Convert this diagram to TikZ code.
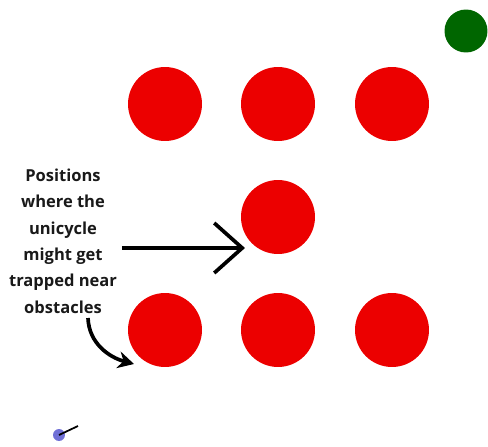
\documentclass[tikz,border=0pt]{standalone}
\usepackage{fontspec}
\setmainfont{Open Sans}
\usetikzlibrary{arrows.meta, positioning}
\definecolor{ObstacleRed}{RGB}{236, 0, 0}
\definecolor{GoalGreen}{RGB}{0, 102, 0}
\definecolor{RobotBlue}{RGB}{112, 112, 214}

\begin{document}
\begin{tikzpicture}[x=0.02cm, y=-0.02cm,
            obstacle/.style={circle, fill=ObstacleRed, minimum size=1.48cm, inner sep=0pt},
            goal/.style={circle, fill=GoalGreen, minimum size=0.86cm, inner sep=0pt},
            robot/.style={circle, fill=RobotBlue, minimum size=0.24cm, inner sep=0pt},
            note/.style={align=center, text=black!90, font=\bfseries\fontsize{9.4}{15}\selectfont},
            pointer/.style={line width=2.1pt, black}
        ]
        \useasboundingbox (0,0) rectangle (488,447);

        % The obstacles
        \node[obstacle] (o1) at (165,104) {};
        \node[obstacle] (o2) at (278,104) {};
        \node[obstacle] (o3) at (392,104) {};
        \node[obstacle] (mid) at (278,217) {};
        \node[obstacle] (o4) at (165,330) {};
        \node[obstacle] (o5) at (278,330) {};
        \node[obstacle] (o6) at (392,330) {};

        % Goal and unicycle
        \node[goal] (goal) at (466,31) {};
        \node[robot] (uni) at (59,435) {};
        \coordinate (head) at (78,426);
        \draw[line width=1pt] (uni.center) -- (head);

        % Labels
        \node[note] (trap) at (63,241) {Positions\\where the\\unicycle\\might get\\trapped near\\obstacles};
        \coordinate (tip) at (245,248);
        \coordinate (bend) at (134,364);
        \draw[pointer, -{Straight Barb[length=0.56cm, width=1.0cm]}] (122,248) -- (tip);
        \draw[pointer, -{Stealth[length=0.32cm, width=0.34cm]}] (88,318) to[out=-88, in=165] (bend);

        \end{tikzpicture}
\end{document}
